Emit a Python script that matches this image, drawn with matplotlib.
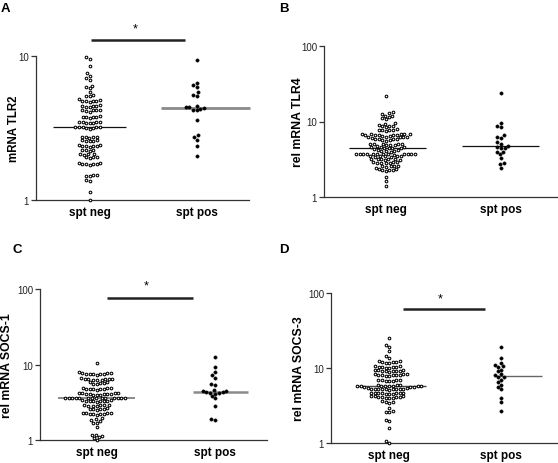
import numpy as np
import matplotlib
matplotlib.use("Agg")
import matplotlib.pyplot as plt
from matplotlib.ticker import NullLocator, FixedLocator, FixedFormatter

plt.rcParams['font.family'] = ['Liberation Sans', 'DejaVu Sans']

categories = ['spt neg', 'spt pos']
panel_letters = ['A', 'B', 'C', 'D']
ylabels = ['mRNA TLR2', 'rel mRNA TLR4', 'rel mRNA SOCS-1', 'rel mRNA SOCS-3']

tlr2_neg = [9.9, 9.6, 8.5, 7.6, 7.3, 7.0, 6.8, 6.2, 6.1, 6.0, 5.6, 5.4, 5.3, 5.25,
            5.0, 4.95, 4.9, 4.9, 4.85, 4.8, 4.9, 4.55, 4.5, 4.5, 4.45, 4.5, 4.4,
            4.25, 4.2, 4.2, 4.15, 4.2, 4.1, 3.85, 3.8, 3.8, 3.75, 3.8, 3.7,
            3.5, 3.5, 3.45, 3.5, 3.4, 3.5, 3.45,
            3.2, 3.2, 3.15, 3.2, 3.2, 3.15, 3.2, 3.1,
            2.75, 2.74, 2.72, 2.75, 2.7, 2.6, 2.58, 2.56, 2.6, 2.55,
            2.4, 2.38, 2.37, 2.36, 2.38, 2.35, 2.4, 2.22, 2.2, 2.24, 2.21,
            2.1, 2.08, 2.07, 2.09, 2.0, 1.98, 1.97, 1.99,
            1.8, 1.78, 1.77, 1.79, 1.8, 1.76, 1.78,
            1.48, 1.47, 1.46, 1.48, 1.37, 1.35, 1.13, 1.0]
tlr2_pos = [9.4, 6.5, 6.3, 6.1, 5.6, 5.35, 5.3, 4.5, 4.45, 4.4, 4.35, 4.3, 4.25, 4.2,
            3.6, 2.83, 2.74, 2.6, 2.37, 2.02]

tlr4_neg = [22.0, 13.2, 12.8, 12.4, 12.0, 11.5, 11.0, 10.7, 11.8, 9.6, 9.4,
            8.9, 8.8, 8.7, 8.6, 8.5, 7.9, 7.8, 7.7, 7.6, 7.8, 7.5,
            6.9, 6.8, 6.8, 6.7, 6.7, 6.6, 6.9, 6.6, 6.8, 6.7,
            6.4, 6.3, 6.3, 6.2, 6.4, 6.2, 6.1, 6.3,
            5.9, 5.8, 5.7, 5.8, 5.6, 5.9, 5.7,
            5.1, 5.0, 4.9, 5.0, 4.9, 5.1, 5.0, 4.9, 4.8,
            4.6, 4.6, 4.5, 4.5, 4.4, 4.6, 4.4,
            4.3, 4.2, 4.1, 4.2, 4.1, 4.0, 4.1,
            3.75, 3.7, 3.7, 3.7, 3.65, 3.7, 3.7, 3.7, 3.7, 3.75, 3.7, 3.7, 3.7,
            3.5, 3.45, 3.5, 3.4, 3.5, 3.4, 3.45,
            3.2, 3.15, 3.2, 3.1, 3.2, 3.15, 3.1,
            2.9, 2.85, 2.9, 2.8, 2.85, 2.9, 2.8,
            2.6, 2.55, 2.6, 2.5, 2.55, 2.35, 2.4, 2.3, 2.35, 2.3,
            2.2, 2.25, 1.85, 1.65, 1.42]
tlr4_pos = [24.0, 9.5, 8.6, 8.4, 6.6, 6.3, 6.1, 5.3, 5.0, 4.8, 4.6, 4.5, 4.4, 4.0,
            3.9, 3.7, 3.3, 2.8, 2.7, 2.4]

socs1_neg = [10.5, 8.0, 7.8,
             7.6, 7.5, 7.5, 7.4, 7.5, 7.3, 7.6, 7.4,
             6.5, 6.4, 6.3, 6.4, 6.5, 6.2, 6.3, 6.4, 6.6,
             5.8, 5.7, 5.6, 5.8, 5.5, 5.7,
             4.9, 4.8, 4.7, 4.8, 4.9, 4.7, 4.8, 4.6, 4.9,
             4.2, 4.1, 4.0, 4.1, 4.2, 4.0, 4.1, 4.15, 4.05, 4.1, 4.2, 4.0,
             3.65, 3.6, 3.6, 3.55, 3.6, 3.6, 3.65, 3.6, 3.55, 3.6, 3.6, 3.6, 3.65, 3.55,
             3.35, 3.3, 3.25, 3.3, 3.3, 3.2, 3.35, 3.3, 3.25,
             2.95, 2.9, 2.85, 2.9, 2.8, 2.9, 2.85,
             2.65, 2.6, 2.55, 2.6, 2.5, 2.6,
             2.3, 2.25, 2.2, 2.2, 2.15, 2.25, 2.2, 2.3, 2.2,
             1.95, 1.9, 1.85, 1.8, 1.7, 1.68, 1.5,
             1.18, 1.15, 1.12, 1.1, 1.05, 1.0]
socs1_pos = [12.7, 9.2, 8.0, 7.2, 6.6, 5.5, 5.4, 4.6, 4.45, 4.4, 4.35, 4.3, 4.25, 4.2,
             4.1, 3.8, 3.6, 2.85, 1.9, 1.85]

socs3_neg = [25.0, 20.0, 19.0, 17.0, 14.5, 13.8,
             12.5, 12.2, 12.0, 11.8, 12.4, 11.6, 12.1,
             10.6, 10.4, 10.2, 10.5, 10.0, 10.3, 10.1, 10.4,
             9.4, 9.2, 9.0, 9.3, 8.9, 9.1, 9.2, 9.0, 9.3,
             8.3, 8.1, 8.0, 8.2, 7.9, 8.1, 8.0, 8.2, 7.8, 8.1,
             7.0, 6.9, 6.8, 7.0, 6.7, 6.9, 6.8,
             5.9, 5.8, 5.7, 5.7, 5.6, 5.8, 5.7, 5.6, 5.9, 5.8, 5.7, 5.6, 6.0, 5.7,
             5.4, 5.3, 5.2, 5.3, 5.2, 5.4, 5.3, 5.1, 5.2, 5.3, 5.2, 5.3,
             4.7, 4.6, 4.5, 4.6, 4.7, 4.5, 4.6, 4.6, 4.5, 4.7,
             4.2, 4.1, 4.0, 4.1, 4.2, 4.0, 4.1, 4.0, 4.1, 4.2,
             3.6, 3.5, 3.4, 3.5, 2.9, 2.7, 2.6, 2.6, 2.05, 1.95, 1.6, 1.05, 1.0]
socs3_pos = [19.0, 13.7, 11.8, 11.0, 10.5, 10.2, 9.5, 9.0, 8.4, 8.0, 7.6, 7.5, 7.0,
             6.5, 6.0, 5.6, 5.3, 4.0, 3.55, 2.7]

W, H = 558, 464
fig = plt.figure(figsize=(W / 100, H / 100), dpi=100)


def add_axes_px(left, right, top, bottom):
    return fig.add_axes([left / W, 1 - bottom / H, (right - left) / W, (bottom - top) / H])


def swarm(ax, xc, vals, d):
    ys = ax.transData.transform(np.column_stack([np.full(len(vals), xc), vals]))[:, 1]
    order = np.argsort(ys)
    xs = np.zeros(len(vals))
    placed = []
    for i in order:
        y = ys[i]
        nb = [(px, py) for px, py in placed if abs(py - y) < d]
        cands = [0.0]
        for px, py in nb:
            dx = np.sqrt(max(d * d - (py - y) ** 2, 0))
            cands += [px - dx, px + dx]
        cands = sorted(cands, key=lambda c: (round(abs(c), 6), c))
        for c in cands:
            if all((c - px) ** 2 + (y - py) ** 2 >= d * d - 1e-6 for px, py in nb):
                xs[i] = c
                break
        placed.append((xs[i], y))
    ppu = ax.transData.transform((1, 0))[0] - ax.transData.transform((0, 0))[0]
    return xc + xs / ppu


panels = [
    dict(data=(tlr2_neg, tlr2_pos), box=(36, 249, 57, 201), ylim=(1, 10), yt=[1, 10],
         xlim=(-0.5, 1.49), lab_x=-0.073, lab_fs=8.3,
         spans=((-0.34, 0.34), (-0.33, 0.50)),
         mcol=('#111111', '#8a8a8a'), mlw=(0.9, 2.0),
         sig=(0.01, 0.89, 12.9, 0.43, 15.5)),
    dict(data=(tlr4_neg, tlr4_pos), box=(324, 557, 47, 198), ylim=(1, 100), yt=[1, 10, 100],
         xlim=(-0.54, 1.49), lab_x=-0.084, lab_fs=8.8,
         spans=((-0.32, 0.35), (-0.34, 0.33)),
         mcol=('#111111', '#111111'), mlw=(0.9, 0.9), sig=None),
    dict(data=(socs1_neg, socs1_pos), box=(40, 267, 290, 441), ylim=(1, 100), yt=[1, 10, 100],
         xlim=(-0.48, 1.44), lab_x=-0.12, lab_fs=8.8,
         spans=((-0.33, 0.32), (-0.19, 0.28)),
         mcol=('#8a8a8a', '#8a8a8a'), mlw=(1.4, 1.8),
         sig=(0.09, 0.81, 76, 0.42, 110)),
    dict(data=(socs3_neg, socs3_pos), box=(331, 557, 294, 444), ylim=(1, 100), yt=[1, 10, 100],
         xlim=(-0.52, 1.50), lab_x=-0.117, lab_fs=8.8,
         spans=((-0.28, 0.33), (-0.05, 0.37)),
         mcol=('#444444', '#666666'), mlw=(1.0, 1.0),
         sig=(0.125, 0.86, 61, 0.46, 85)),
]

for k, p in enumerate(panels):
    ax = add_axes_px(*p['box'])
    ax.set_yscale('log')
    ax.set_ylim(*p['ylim'])
    ax.set_xlim(*p['xlim'])
    ax.yaxis.set_major_locator(FixedLocator(p['yt']))
    ax.yaxis.set_major_formatter(FixedFormatter([str(t) for t in p['yt']]))
    ax.yaxis.set_minor_locator(NullLocator())
    ax.set_xticks([0, 1])
    ax.set_xticklabels(categories, fontsize=8.5, fontweight='bold')
    ax.tick_params(axis='x', length=0, pad=4)
    ax.tick_params(axis='y', length=3.5, width=0.9, labelsize=7, pad=1.5, colors='#333333',
                   labelcolor='#222222')
    for s in ['top', 'right']:
        ax.spines[s].set_visible(False)
    for s in ['left', 'bottom']:
        ax.spines[s].set_color('#333333')
        ax.spines[s].set_linewidth(0.9)
    ax.set_ylabel(ylabels[k], fontsize=p['lab_fs'], fontweight='bold')
    ax.yaxis.set_label_coords(p['lab_x'], 0.5)

    neg, pos = p['data']
    xn = swarm(ax, 0, neg, 3.6)
    ax.plot(xn, neg, 'o', ms=1.9, mfc='white', mec='black', mew=0.75, clip_on=False, zorder=3)
    xp = swarm(ax, 1, pos, 3.9)
    ax.plot(xp, pos, 'o', ms=2.5, mfc='black', mec='black', mew=0.2, clip_on=False, zorder=3)

    for j, vals in enumerate((neg, pos)):
        m = np.median(vals)
        a, b = p['spans'][j]
        ax.plot([j + a, j + b], [m, m], color=p['mcol'][j], lw=p['mlw'][j], zorder=2,
                clip_on=False, solid_capstyle='butt')

    if p['sig'] is not None:
        x0, x1, yb, xs_, ys_ = p['sig']
        ax.plot([x0, x1], [yb, yb], color='#222222', lw=1.8, clip_on=False,
                solid_capstyle='butt')
        ax.text(xs_, ys_, '*', ha='center', va='center', fontsize=9, clip_on=False)

letter_pos = [(1, 12), (279, 12), (12, 253), (279, 253)]
for L, (lx, ly) in zip(panel_letters, letter_pos):
    fig.text(lx / W, 1 - ly / H, L, fontsize=9.5, fontweight='bold', ha='left', va='baseline')

fig.savefig('out.png', dpi=100)
